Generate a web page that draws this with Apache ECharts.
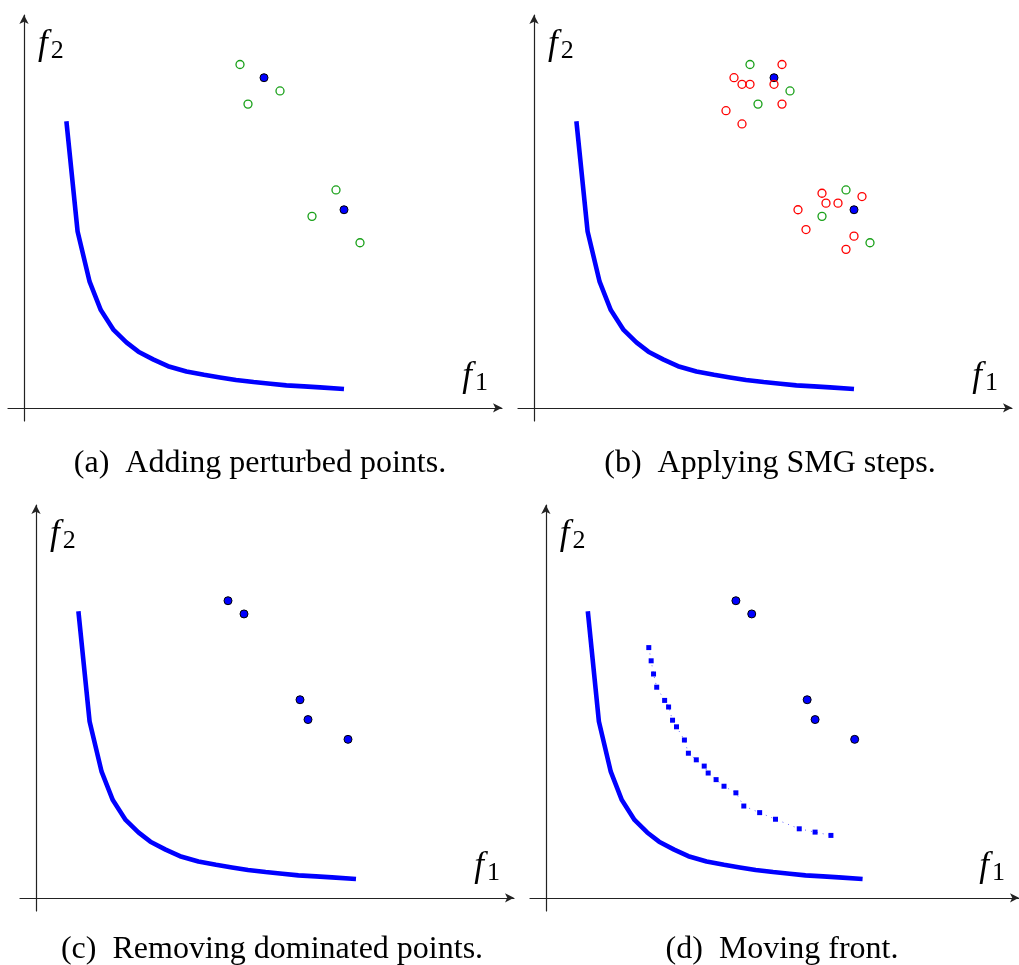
<!DOCTYPE html>
<html>
<head>
<meta charset="utf-8">
<script src="https://cdn.jsdelivr.net/npm/echarts@6/dist/echarts.min.js"></script>
<style>html,body{margin:0;padding:0;background:#fff}#c{width:1019px;height:965px}</style>
</head>
<body>
<div id="c"></div>
<script>
// Pareto front (true front), f1 / f2
var frontX = [5.3, 6.7, 8.2, 9.6, 11.2, 12.8, 14.3, 16.2, 18.0, 20.3, 22.5, 24.5, 26.5, 28.7, 30.8, 32.8, 35.0, 37.0, 40.0];
var frontY = [43.4, 26.7, 19.1, 14.8, 11.8, 9.9, 8.5, 7.3, 6.3, 5.5, 5.0, 4.6, 4.2, 3.9, 3.65, 3.4, 3.25, 3.1, 2.85];
// current (blue) points
var baseX = [30, 40];
var baseY = [50, 30];
// perturbed (green) points
var pertX = [27, 32, 28, 39, 36, 42];
var pertY = [52, 48, 46, 33, 29, 25];
// SMG step (red) points
var smgX = [31, 25, 26, 27, 30, 31, 24, 26, 36, 41, 36.5, 38, 33, 34, 40, 39];
var smgY = [52, 50, 49, 49, 49, 46, 45, 43, 32.5, 32, 31, 31, 30, 27, 26, 24];
// non-dominated points kept
var keptX = [24, 26, 33, 34, 39];
var keptY = [45, 43, 30, 27, 24];
// moving front
var moveX = [13.0, 13.3, 13.6, 14.0, 15.0, 15.5, 16.0, 16.5, 17.5, 18.0, 19.0, 20.0, 20.5, 21.5, 22.5, 24.0, 25.0, 27.0, 29.0, 32.0, 34.0, 36.0];
var moveY = [37.9, 35.9, 33.9, 31.9, 29.9, 28.9, 26.9, 25.9, 23.9, 21.9, 20.9, 19.95, 18.9, 17.9, 16.9, 15.9, 13.9, 12.9, 11.9, 10.45, 9.95, 9.45];
var captions = ['(a)\u2002Adding perturbed points.', '(b)\u2002Applying SMG steps.', '(c)\u2002Removing dominated points.', '(d)\u2002Moving front.'];

function zip(xs, ys) { return xs.map(function (x, i) { return [x, ys[i]]; }); }

var BLUE = '#0000ff', GREEN = '#18a018', RED = '#ff0000', AX = '#222';
var serif = 'Liberation Serif';
var gridPos = [
  {left: 8, top: 15, capTop: 443}, {left: 518, top: 15, capTop: 443},
  {left: 20, top: 505, capTop: 929}, {left: 530, top: 505, capTop: 929}
];
var grids = gridPos.map(function (g) {
  return {left: g.left, top: g.top, width: 494, height: 406, containLabel: false};
});
var nameRich = {
  i: {fontFamily: serif, fontStyle: 'italic', fontSize: 35, color: '#000'},
  s: {fontFamily: serif, fontSize: 26, color: '#000', padding: [12, 0, 0, 3]}
};
var xAxes = [], yAxes = [];
for (var k = 0; k < 4; k++) {
  xAxes.push({
    type: 'value', gridIndex: k, min: -2, max: 59.75,
    axisLine: {onZero: true, symbol: ['none', 'arrow'], symbolSize: [7, 9], lineStyle: {color: AX, width: 1.2}},
    axisTick: {show: false}, axisLabel: {show: false}, splitLine: {show: false},
    name: '{i|f}{s|1}', nameLocation: 'end', nameGap: -14,
    nameTextStyle: {align: 'right', verticalAlign: 'bottom', padding: [0, 0, 12, 0], rich: nameRich}
  });
  yAxes.push({
    type: 'value', gridIndex: k, min: -2, max: 59.5,
    axisLine: {onZero: true, symbol: ['none', 'arrow'], symbolSize: [7, 9], lineStyle: {color: AX, width: 1.2}},
    axisTick: {show: false}, axisLabel: {show: false}, splitLine: {show: false},
    name: '{i|f}{s|2}', nameLocation: 'end', nameGap: -30,
    nameTextStyle: {align: 'left', verticalAlign: 'middle', padding: [0, 0, 0, 14], rich: nameRich}
  });
}

function frontSeries(k) {
  return {type: 'line', xAxisIndex: k, yAxisIndex: k, data: zip(frontX, frontY), showSymbol: false,
    lineStyle: {color: BLUE, width: 4.6}, silent: true, z: 2};
}
function filled(k, xs, ys) {
  return {type: 'scatter', xAxisIndex: k, yAxisIndex: k, data: zip(xs, ys), symbol: 'circle', symbolSize: 8,
    itemStyle: {color: BLUE, borderColor: '#000', borderWidth: 1, opacity: 1}, z: 3};
}
function hollow(k, xs, ys, c) {
  return {type: 'scatter', xAxisIndex: k, yAxisIndex: k, data: zip(xs, ys), symbol: 'circle', symbolSize: 8,
    itemStyle: {color: 'rgba(0,0,0,0)', borderColor: c, borderWidth: 1.3, opacity: 1}, z: 4};
}

var series = [
  frontSeries(0), filled(0, baseX, baseY), hollow(0, pertX, pertY, GREEN),
  frontSeries(1), filled(1, baseX, baseY), hollow(1, pertX, pertY, GREEN), hollow(1, smgX, smgY, RED),
  frontSeries(2), filled(2, keptX, keptY),
  frontSeries(3), filled(3, keptX, keptY),
  {type: 'line', xAxisIndex: 3, yAxisIndex: 3, data: zip(moveX, moveY), symbol: 'rect', symbolSize: 5,
    showSymbol: true, itemStyle: {color: BLUE, opacity: 1}, lineStyle: {color: BLUE, width: 1, type: [1, 5], opacity: 0.6}, z: 3}
];

var titles = captions.map(function (t, k) {
  return {text: t, left: gridPos[k].left + 247, top: gridPos[k].capTop, textAlign: 'center',
    textStyle: {fontFamily: serif, fontWeight: 'normal', fontSize: 32, color: '#000'}};
});

var chart = echarts.init(document.getElementById('c'), null, {renderer: 'canvas'});
chart.setOption({
  animation: false,
  backgroundColor: '#fff',
  title: titles,
  grid: grids,
  xAxis: xAxes,
  yAxis: yAxes,
  series: series
});
</script>
</body>
</html>
